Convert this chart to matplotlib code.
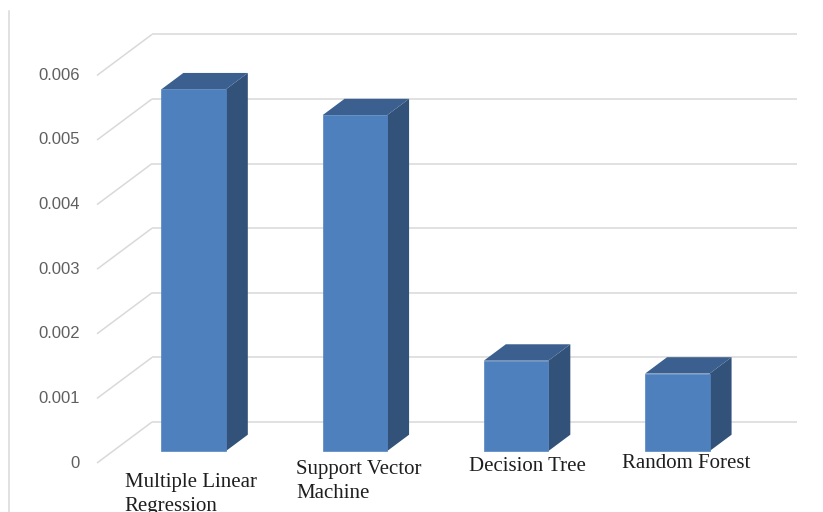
import matplotlib
matplotlib.use("Agg")
import matplotlib.pyplot as plt
from matplotlib.patches import Polygon
from matplotlib.lines import Line2D

# --- data -------------------------------------------------------------
models = ["Multiple Linear\nRegression", "Support Vector\nMachine",
          "Decision Tree", "Random Forest"]
errors = [0.0056, 0.0052, 0.0014, 0.0012]
ticks = [0, 0.001, 0.002, 0.003, 0.004, 0.005, 0.006]
tick_labels = ["0", "0.001", "0.002", "0.003", "0.004", "0.005", "0.006"]

# --- layout (pixels) --------------------------------------------------
W, H, DPI = 823, 512, 100
ORIGIN_PX = (97, 463)          # front-left corner of the floor (value 0)
PITCH_PX = 161.25              # width of one category slot
UNIT_PX = 64.6                 # pixels per 0.001
DEPTH_PX = (55, 41)            # oblique offset from front to back wall
BAR_W = 0.4                    # bar width in category units
D0, D1 = 0.29, 0.69            # bar front / back depth fractions

FRONT = "#4E80BD"
SIDE = "#32527A"
TOP = "#3B608F"
GRID = "#D9D9D9"

vscale = 0.001 / UNIT_PX
DX = DEPTH_PX[0] / PITCH_PX
DY = DEPTH_PX[1] * vscale

fig = plt.figure(figsize=(W / DPI, H / DPI), dpi=DPI)
ax = fig.add_axes([0, 0, 1, 1])
ax.set_xlim((0 - ORIGIN_PX[0]) / PITCH_PX - 0.5, (W - ORIGIN_PX[0]) / PITCH_PX - 0.5)
ax.set_ylim((ORIGIN_PX[1] - H) * vscale, ORIGIN_PX[1] * vscale)
ax.axis("off")

n = len(models)
x_left, x_right = -0.5, n - 0.5

# side wall diagonals and back wall gridlines
for t, lab in zip(ticks, tick_labels):
    ax.plot([x_left, x_left + DX], [t, t + DY], color=GRID, lw=1.1,
            solid_capstyle="butt", zorder=1)
    ax.plot([x_left + DX, x_right + DX], [t + DY, t + DY], color=GRID, lw=1.1,
            solid_capstyle="butt", zorder=1)
    ax.annotate(lab, (x_left, t), xytext=(-12.5, 0), textcoords="offset points",
                ha="right", va="center", fontsize=12, color="#5F5F5F",
                family="Liberation Sans")

# bars: front face via ax.bar, side and top faces as polygons
xs = [i + D0 * DX for i in range(n)]
base = D0 * DY
ddx = (D1 - D0) * DX
ddy = (D1 - D0) * DY
ax.bar(xs, errors, width=BAR_W, bottom=base, color=FRONT,
       edgecolor="#5585C0", linewidth=0.5, zorder=4)
for x, v in zip(xs, errors):
    xl, xr = x - BAR_W / 2, x + BAR_W / 2
    top = base + v
    ax.add_patch(Polygon([(xr, base), (xr + ddx, base + ddy),
                          (xr + ddx, top + ddy), (xr, top)],
                         closed=True, facecolor=SIDE, edgecolor="none", zorder=3))
    ax.add_patch(Polygon([(xl, top), (xr, top), (xr + ddx, top + ddy),
                          (xl + ddx, top + ddy)],
                         closed=True, facecolor=TOP, edgecolor="none", zorder=3))

# category labels under the bars
label_dx = [-2, 3, 8, 6.5]         # points
label_dy = [-16, -6.5, -4, -2]     # points below the bar base
for x, name, ox, oy in zip(xs, models, label_dx, label_dy):
    ax.annotate(name, (x, base), xytext=(ox, oy), textcoords="offset points",
                ha="center", va="top", multialignment="left",
                fontsize=15, color="#1E1E1E", family="Liberation Serif",
                linespacing=1.36)

# left border of the chart area
fig.add_artist(Line2D([9 / W, 9 / W], [0, 1 - 11 / H], color=GRID, lw=1.1,
                      transform=fig.transFigure))

fig.savefig("out.png", dpi=DPI)
